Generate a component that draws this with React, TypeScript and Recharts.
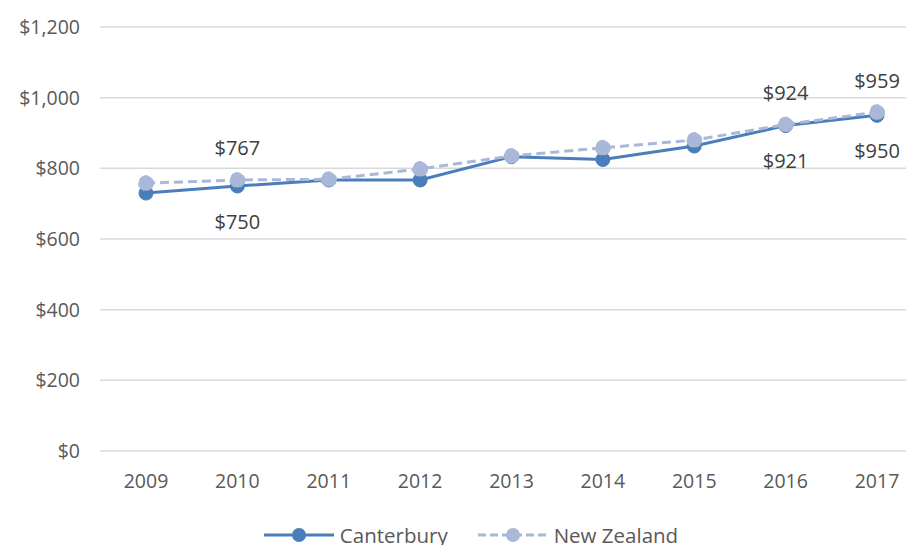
import React from "react";
import { LineChart, Line, XAxis, YAxis, CartesianGrid, LabelList } from "recharts";

const years = ["2009", "2010", "2011", "2012", "2013", "2014", "2015", "2016", "2017"];
const canterbury = [730, 750, 767, 767, 833, 825, 863, 921, 950];
const newZealand = [758, 767, 769, 798, 835, 858, 880, 924, 959];
const labelledYears = ["2010", "2016", "2017"];
const yTicks = [0, 200, 400, 600, 800, 1000, 1200];

const data = years.map((y, i) => ({ year: y, canterbury: canterbury[i], nz: newZealand[i] }));

const FONT = "'Open Sans', Lato, sans-serif";
const C1 = "#4a7ebb";
const C2 = "#a9b8d8";

const fmt = (v: number) => "$" + v.toLocaleString("en-US");

const makeLabel = (dy: number) => (props: any) => {
  const { x, y, value, index } = props;
  if (!labelledYears.includes(years[index])) return null;
  return (
    <text x={x} y={y + dy} textAnchor="middle" dominantBaseline="central" fontFamily={FONT} fontSize={20} fill="#404040">
      {fmt(value)}
    </text>
  );
};

const LegendItem = ({ color, dashed, label, mr }: any) => (
  <span style={{ display: "inline-flex", alignItems: "center", marginRight: mr }}>
    <svg width={70} height={16}>
      <line x1={0} y1={8} x2={70} y2={8} stroke={color} strokeWidth={3} strokeDasharray={dashed ? "8 4" : undefined} />
      <circle cx={35} cy={8} r={7} fill={color} />
    </svg>
    <span style={{ marginLeft: 6 }}>{label}</span>
  </span>
);

export default function App() {
  return (
    <div style={{ position: "relative", width: 906, height: 537, overflow: "hidden", fontFamily: FONT }}>
      <LineChart width={930} height={500} data={data} margin={{ top: 19, right: 15, bottom: 0, left: 0 }}>
        <CartesianGrid vertical={false} stroke="#d9d9d9" strokeWidth={1.5} />
        <XAxis
          dataKey="year"
          axisLine={false}
          tickLine={false}
          padding={{ left: 46, right: 46 }}
          tick={{ fill: "#595959", fontSize: 19.5, fontFamily: FONT }}
          tickMargin={17}
          height={57}
        />
        <YAxis
          domain={[0, 1200]}
          ticks={yTicks}
          axisLine={false}
          tickLine={false}
          tickFormatter={fmt}
          tick={{ fill: "#595959", fontSize: 19.5, fontFamily: FONT }}
          width={92}
          tickMargin={14}
        />
        <Line
          type="linear"
          dataKey="canterbury"
          stroke={C1}
          strokeWidth={3}
          dot={{ r: 7, fill: C1, stroke: C1, strokeWidth: 1 }}
          isAnimationActive={false}
        >
          <LabelList dataKey="canterbury" content={makeLabel(35)} />
        </Line>
        <Line
          type="linear"
          dataKey="nz"
          stroke={C2}
          strokeWidth={3}
          strokeDasharray="9 5"
          dot={{ r: 7.5, fill: C2, stroke: C2, strokeWidth: 1 }}
          isAnimationActive={false}
        >
          <LabelList dataKey="nz" content={makeLabel(-32)} />
        </Line>
      </LineChart>
      <div
        style={{
          position: "absolute",
          top: 513,
          left: 10,
          width: 906,
          fontSize: 20.5,
          color: "#595959",
          display: "flex",
          justifyContent: "center",
          alignItems: "center",
        }}
      >
        <LegendItem color={C1} label="Canterbury" mr={30} />
        <LegendItem color={C2} dashed label="New Zealand" mr={0} />
      </div>
    </div>
  );
}
